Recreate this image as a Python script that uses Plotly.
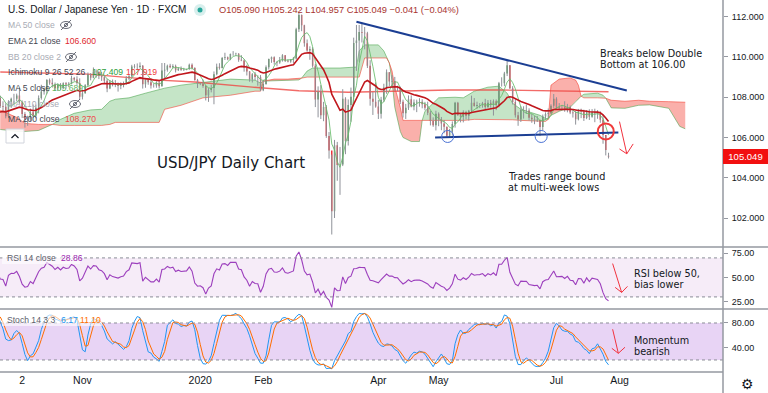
import numpy as np
import pandas as pd
import plotly.graph_objects as go
from plotly.subplots import make_subplots

# ---------------- data (USD/JPY daily, FXCM) ----------------
first_date = "2019-08-26"
first_open = 105.39
last_open = 105.090

closes = [
    105.93, 105.75, 106.10, 106.52, 106.27,
    106.23, 105.96, 106.41, 106.93, 106.92,
    107.25, 107.55, 107.80, 108.10, 108.08,
    108.14, 108.15, 108.44, 107.97, 107.56,
    107.53, 107.05, 107.77, 107.93, 107.92,
    108.08, 107.75, 107.17, 106.89, 106.93,
    107.25, 107.08, 107.48, 107.96, 108.28,
    108.38, 108.86, 108.72, 108.64, 108.44,
    108.63, 108.48, 108.70, 108.63, 108.67,
    108.95, 108.88, 108.71, 108.03, 108.20,
    108.60, 109.15, 108.97, 109.28, 109.26,
    109.05, 108.99, 108.82, 108.43, 108.77,
    108.65, 108.61, 108.56, 108.64, 108.67,
    108.93, 109.04, 109.53, 109.50, 109.50,
    109.56, 108.64, 108.87, 108.75, 108.58,
    108.58, 108.72, 108.54, 109.33, 109.37,
    109.57, 109.49, 109.55, 109.34, 109.43,
    109.37, 109.38, 109.40, 109.61, 109.45,
    108.86, 108.66, 108.68, 108.56, 108.10,
    108.36, 108.46, 109.14, 109.51, 109.45,
    109.95, 109.98, 109.89, 110.15, 110.15,
    110.16, 109.86, 109.83, 109.47, 109.28,
    108.89, 109.14, 109.01, 108.99, 108.35,
    108.66, 109.49, 109.90, 109.99, 109.75,
    109.73, 109.82, 110.08, 109.81, 109.77,
    109.86, 109.92, 111.38, 112.08, 111.58,
    110.68, 110.32, 110.40, 109.57, 107.89,
    108.28, 107.11, 107.51, 106.08, 105.35,
    102.34, 105.61, 104.63, 104.66, 107.92,
    105.82, 107.61, 108.03, 110.69, 110.82,
    111.24, 111.20, 111.18, 109.56, 107.93,
    107.78, 107.54, 107.18, 107.88, 108.48,
    109.24, 108.78, 108.81, 108.48, 108.45,
    107.77, 107.20, 107.48, 107.90, 107.54,
    107.74, 107.78, 107.77, 107.65, 107.48,
    107.23, 106.82, 106.61, 107.18, 106.90,
    106.69, 106.53, 106.09, 106.29, 106.67,
    107.72, 107.13, 107.02, 107.27, 107.08,
    107.33, 107.72, 107.56, 107.61, 107.62,
    107.71, 107.51, 107.72, 107.63, 107.80,
    107.61, 108.69, 108.69, 109.18, 109.59,
    108.44, 107.76, 107.11, 106.89, 107.36,
    107.33, 107.34, 106.98, 106.91, 106.86,
    106.88, 106.52, 107.04, 107.17, 107.21,
    107.58, 107.92, 107.48, 107.52, 107.51,
    107.36, 107.51, 107.24, 107.21, 106.91,
    107.29, 107.28, 106.97, 107.30, 107.03,
    107.26, 107.19, 107.17, 106.88, 106.12,
    105.38, 105.049,
]
highs = [
    106.13, 106.18, 106.22, 106.68, 106.66,
    106.39, 106.28, 106.56, 107.07, 107.23,
    107.39, 107.64, 107.94, 108.27, 108.20,
    108.30, 108.24, 108.48, 108.47, 108.08,
    107.80, 107.70, 107.85, 107.98, 108.17,
    108.18, 108.47, 107.84, 107.26, 107.08,
    107.44, 107.64, 107.63, 108.09, 108.62,
    108.48, 108.90, 108.93, 108.94, 108.73,
    108.68, 108.70, 108.74, 108.75, 108.75,
    109.07, 109.01, 109.04, 108.94, 108.30,
    108.65, 109.23, 109.20, 109.48, 109.38,
    109.27, 109.25, 109.07, 108.90, 108.85,
    108.88, 108.85, 108.73, 108.74, 108.78,
    109.05, 109.10, 109.61, 109.64, 109.68,
    109.73, 109.60, 108.95, 108.94, 108.93,
    108.68, 108.79, 108.82, 109.70, 109.70,
    109.62, 109.66, 109.64, 109.62, 109.49,
    109.53, 109.46, 109.42, 109.67, 109.68,
    109.49, 108.91, 108.72, 108.88, 108.60,
    108.45, 108.62, 109.28, 109.67, 109.69,
    110.00, 110.21, 110.02, 110.17, 110.29,
    110.21, 110.19, 110.09, 109.88, 109.61,
    109.30, 109.20, 109.25, 109.09, 109.10,
    108.87, 109.58, 109.92, 110.02, 110.03,
    109.79, 110.00, 110.14, 110.09, 109.88,
    109.90, 110.00, 111.45, 112.22, 112.11,
    111.60, 110.87, 110.53, 110.48, 109.66,
    108.54, 108.60, 107.77, 107.61, 106.27,
    105.15, 105.88, 105.78, 105.53, 108.40,
    108.00, 107.89, 108.48, 110.96, 111.59,
    111.59, 111.71, 111.49, 111.25, 109.84,
    108.26, 108.73, 107.86, 108.02, 108.67,
    109.38, 109.25, 109.10, 109.01, 108.57,
    108.53, 107.88, 107.67, 108.09, 108.09,
    107.89, 107.88, 107.95, 107.90, 107.77,
    107.78, 107.32, 107.00, 107.33, 107.25,
    107.02, 106.87, 106.54, 106.43, 106.80,
    107.77, 107.77, 107.19, 107.35, 107.33,
    107.37, 108.08, 107.96, 107.78, 107.71,
    107.77, 107.92, 107.86, 107.87, 107.89,
    107.89, 108.76, 108.99, 109.26, 109.85,
    109.60, 108.55, 107.90, 107.27, 107.55,
    107.55, 107.63, 107.45, 107.17, 107.07,
    107.07, 106.85, 107.14, 107.25, 107.44,
    107.65, 108.16, 108.00, 107.71, 107.61,
    107.80, 107.67, 107.59, 107.36, 107.32,
    107.42, 107.43, 107.38, 107.36, 107.40,
    107.41, 107.43, 107.36, 107.30, 107.12,
    106.10, 105.242,
]
lows = [
    104.45, 105.65, 105.60, 105.96, 106.22,
    106.02, 105.73, 105.89, 106.38, 106.74,
    106.85, 107.11, 107.44, 107.58, 107.83,
    107.87, 107.95, 108.07, 107.79, 107.47,
    107.32, 106.95, 106.97, 107.47, 107.67,
    107.80, 107.68, 106.97, 106.49, 106.58,
    106.80, 106.98, 106.95, 107.20, 107.88,
    108.13, 108.15, 108.62, 108.48, 108.32,
    108.31, 108.37, 108.40, 108.43, 108.50,
    108.64, 108.79, 108.62, 107.88, 107.89,
    108.18, 108.55, 108.84, 108.94, 108.97,
    108.90, 108.81, 108.66, 108.25, 108.40,
    108.54, 108.50, 108.28, 108.40, 108.49,
    108.62, 108.85, 108.98, 109.43, 109.33,
    109.45, 108.43, 108.47, 108.62, 108.43,
    108.48, 108.47, 108.43, 108.53, 108.92,
    109.27, 109.44, 109.45, 109.23, 109.31,
    109.31, 109.30, 109.34, 109.36, 109.38,
    108.82, 108.46, 108.60, 108.47, 107.84,
    107.77, 108.24, 107.65, 109.09, 109.37,
    109.43, 109.85, 109.84, 109.84, 110.06,
    110.05, 109.76, 109.79, 109.27, 109.08,
    108.77, 108.73, 108.85, 108.57, 108.31,
    108.30, 108.62, 109.38, 109.71, 109.62,
    109.54, 109.66, 109.77, 109.75, 109.73,
    109.71, 109.70, 109.88, 111.24, 111.28,
    110.51, 110.26, 109.86, 109.48, 107.51,
    107.00, 106.92, 106.81, 105.98, 104.95,
    101.18, 102.00, 103.85, 103.15, 104.58,
    105.17, 105.60, 106.78, 107.70, 109.31,
    109.76, 110.72, 110.38, 109.45, 107.58,
    107.12, 107.48, 106.92, 106.94, 107.77,
    108.17, 108.56, 108.49, 108.31, 108.30,
    107.66, 106.99, 106.92, 107.37, 107.50,
    107.35, 107.26, 107.53, 107.45, 107.35,
    107.11, 106.60, 106.53, 106.35, 106.56,
    106.36, 106.21, 105.98, 105.99, 106.09,
    106.49, 107.07, 106.75, 106.75, 106.90,
    106.84, 107.21, 107.53, 107.42, 107.46,
    107.48, 107.38, 107.47, 107.48, 107.09,
    107.36, 107.50, 108.53, 108.55, 109.05,
    108.41, 107.64, 106.99, 106.58, 106.77,
    106.94, 107.18, 106.85, 106.73, 106.66,
    106.77, 106.07, 106.36, 106.89, 106.98,
    107.17, 107.47, 107.40, 107.35, 107.38,
    107.28, 107.25, 107.16, 106.99, 106.64,
    106.85, 106.96, 106.82, 106.91, 106.87,
    106.98, 106.76, 106.93, 106.73, 105.69,
    105.11, 104.957,
]

# 200-day MA
ma200_dates = ["2019-09-20", "2019-11-05", "2019-12-11", "2019-12-30", "2020-01-28",
               "2020-02-20", "2020-03-17", "2020-04-13", "2020-05-07", "2020-06-02",
               "2020-07-02", "2020-07-28"]
ma200_vals = [109.25, 109.15, 108.85, 108.76, 108.5, 108.32, 108.25, 108.3, 108.36,
              108.36, 108.32, 108.27]

# Ichimoku cloud (leading spans, displaced 26 bars)
cloud_dates = [
    "2019-09-20", "2019-09-30", "2019-10-03", "2019-10-10", "2019-10-17",
    "2019-10-22", "2019-10-29", "2019-11-06", "2019-11-12", "2019-11-15", "2019-11-19",
    "2019-11-26", "2019-12-04", "2019-12-11", "2019-12-13", "2019-12-23", "2020-01-02",
    "2020-01-16", "2020-01-29", "2020-01-31", "2020-02-03",
    "2020-02-07", "2020-02-14", "2020-02-20", "2020-02-21",
    "2020-02-25", "2020-02-27", "2020-03-12", "2020-03-20", "2020-03-23", "2020-03-25",
    "2020-04-01", "2020-04-03", "2020-04-06", "2020-04-07",
    "2020-04-08", "2020-04-09", "2020-04-13", "2020-04-14", "2020-04-17", "2020-04-22",
    "2020-04-23",
    "2020-04-24", "2020-05-01", "2020-05-11", "2020-05-14", "2020-05-20", "2020-05-27",
    "2020-06-02", "2020-06-05", "2020-06-09", "2020-06-12", "2020-06-23", "2020-06-25",
    "2020-06-26",
    "2020-06-29", "2020-07-02", "2020-07-08", "2020-07-10", "2020-07-13", "2020-07-14",
    "2020-07-15", "2020-07-22", "2020-07-24", "2020-07-27",
    "2020-07-29", "2020-08-05", "2020-08-12", "2020-08-18", "2020-08-27", "2020-09-02",
    "2020-09-04",
]
span_a = [
    106.4, 106.3, 106.3, 106.35, 106.65,
    106.9, 107.2, 107.37, 107.4, 107.8, 107.9,
    107.97, 108.2, 108.4, 108.45, 108.6, 108.75,
    108.9, 108.85, 108.7, 108.8,
    108.82, 108.84, 108.86, 108.95,
    109.3, 109.45, 109.45, 109.5, 110.3, 110.6,
    110.6, 110.3, 110.0, 109.7,
    108.8, 107.5, 106.3, 106.0, 105.8, 105.8,
    106.85,
    107.3, 107.97, 108.0, 107.97, 108.3, 108.5,
    108.55, 108.2, 107.7, 107.4, 107.1, 106.95,
    106.9,
    107.1, 107.3, 107.5, 107.8, 107.9, 108.05,
    108.15, 108.2, 108.1, 107.95,
    107.47, 107.45, 107.6, 107.62, 107.45, 106.55,
    106.43,
]
span_b = [
    107.35, 107.0, 106.7, 106.65, 106.65,
    106.6, 106.6, 106.6, 106.6, 106.65, 106.75,
    106.75, 106.75, 106.75, 107.4, 107.6, 107.97,
    108.1, 108.3, 108.3, 108.8,
    108.9, 108.9, 108.92, 108.95,
    109.0, 109.0, 109.0, 109.0, 109.0, 109.95,
    109.95, 109.95, 109.95, 109.7,
    109.3, 108.5, 107.5, 106.85, 106.85, 106.85,
    106.85,
    106.85, 106.85, 106.85, 106.85, 106.9, 106.9,
    106.9, 106.88, 106.88, 106.85, 106.8, 106.8,
    106.9,
    108.6, 108.9, 108.96, 108.85, 108.6, 108.05,
    107.97, 107.97, 107.97, 107.95,
    107.85, 107.8, 107.85, 107.8, 107.78, 107.78,
    107.75,
]

# legend values shown on the chart
ohlc_text = "O105.090 H105.242 L104.957 C105.049 \u22120.041 (\u22120.04%)"
ema21_last = "106.600"
ichi_vals = ("107.409", "107.919")
ma5_last = "105.689"
ma200_last = "108.270"
rsi_last = "28.86"
stoch_last = ("6.17", "11.10")
last_close = 105.049

tick_dates = ["2019-10-02", "2019-11-01", "2020-01-01", "2020-02-03", "2020-04-01",
              "2020-05-01", "2020-07-01", "2020-08-03"]
tick_labels = ["2", "Nov", "2020", "Feb", "Apr", "May", "Jul", "Aug"]
view_dates = ("2019-09-19 21:50", "2020-09-23 18:45")

# drawings (date, value)
resistance = [("2020-03-20", 111.75), ("2020-08-05 16:00", 108.33)]
support = [("2020-04-29 17:00", 106.0), ("2020-07-31 14:00", 106.25)]
blue_circles = [("2020-05-06 07:00", 106.05), ("2020-06-23 10:00", 106.05)]
red_circle = ("2020-07-27", 106.3)
price_arrow = [("2020-08-03", 106.79), ("2020-08-05 16:00", 105.19),
               ("2020-08-03", 105.43), ("2020-08-10", 105.68)]
rsi_arrow = [("2020-07-29 12:00", 64.2), ("2020-08-03 19:00", 34.6),
             ("2020-07-30 10:00", 39.8), ("2020-08-05 22:00", 40.8)]
stoch_arrow = [("2020-07-29 12:00", 69.8), ("2020-07-31 14:00", 30.8),
               ("2020-07-29 05:00", 38.9), ("2020-08-05", 40.6)]

# ---------------- derived series ----------------
base_day = np.datetime64(first_date)


def bar_pos(s):
    """Trading-day position of a date (weekends skipped), fractional within the day."""
    ts = pd.Timestamp(s)
    day = np.datetime64(ts.date())
    return float(np.busday_count(base_day, day)) + (ts - ts.normalize()).total_seconds() / 86400


n = len(closes)
xi = list(range(n))
opens = [first_open] + closes[:-2] + [last_open]
c = pd.Series(closes, dtype=float)
h = pd.Series(highs, dtype=float)
l = pd.Series(lows, dtype=float)
ma5 = c.rolling(5).mean()
ema21 = c.ewm(span=21, adjust=False).mean()
delta = c.diff()
ag = delta.clip(lower=0).ewm(alpha=1 / 14, adjust=False).mean()
al = (-delta.clip(upper=0)).ewm(alpha=1 / 14, adjust=False).mean()
rsi = 100 - 100 / (1 + ag / al)
raw_k = 100 * (c - l.rolling(14).min()) / (h.rolling(14).max() - l.rolling(14).min())
k = raw_k.rolling(3).mean()
d = k.rolling(3).mean()

UP = "#2f8a36"
DN = "#ec1c24"
PW, PH = 723.0, 372.0


def px(x):
    return x / PW


def py(y):
    return 1 - y / PH


fig = make_subplots(rows=3, cols=1, shared_xaxes=True, vertical_spacing=0)

# Ichimoku cloud fills
cx = [bar_pos(s) for s in cloud_dates]
diff = [round(a - b, 6) for a, b in zip(span_a, span_b)]
segs, cur = [], [0]
for j in range(1, len(cx)):
    cur.append(j)
    if diff[j] == 0 and j != len(cx) - 1:
        segs.append(cur)
        cur = [j]
segs.append(cur)
for sg in segs:
    s = sum(diff[j] for j in sg)
    col = "rgba(76,175,80,0.32)" if s > 0 else "rgba(244,67,54,0.42)"
    xs = [cx[j] for j in sg]
    fig.add_trace(go.Scatter(x=xs, y=[span_b[j] for j in sg], mode="lines",
                             line=dict(width=0), hoverinfo="skip", showlegend=False), 1, 1)
    fig.add_trace(go.Scatter(x=xs, y=[span_a[j] for j in sg], mode="lines",
                             line=dict(width=0), fill="tonexty", fillcolor=col,
                             hoverinfo="skip", showlegend=False), 1, 1)
fig.add_trace(go.Scatter(x=cx, y=span_a, mode="lines",
                         line=dict(color="rgba(67,160,71,0.55)", width=1),
                         showlegend=False), 1, 1)
fig.add_trace(go.Scatter(x=cx, y=span_b, mode="lines",
                         line=dict(color="rgba(244,67,54,0.6)", width=1),
                         showlegend=False), 1, 1)

# MA200
fig.add_trace(go.Scatter(x=[bar_pos(s) for s in ma200_dates], y=ma200_vals, mode="lines",
                         line=dict(color="rgba(239,70,66,0.8)", width=1.4),
                         showlegend=False), 1, 1)

# wicks + candle bodies
wx, wy = [], []
for xv, hi, lo in zip(xi, highs, lows):
    wx += [xv, xv, None]
    wy += [lo, hi, None]
fig.add_trace(go.Scatter(x=wx, y=wy, mode="lines", line=dict(color="#8f9299", width=1),
                         hoverinfo="skip", showlegend=False), 1, 1)
fig.add_trace(go.Candlestick(x=xi, open=opens, high=highs, low=lows, close=closes,
                             increasing=dict(line=dict(color=UP, width=0), fillcolor=UP),
                             decreasing=dict(line=dict(color=DN, width=0), fillcolor=DN),
                             showlegend=False), 1, 1)

fig.add_trace(go.Scatter(x=xi, y=ma5, mode="lines",
                         line=dict(color="rgba(102,187,106,0.85)", width=1),
                         showlegend=False), 1, 1)
fig.add_trace(go.Scatter(x=xi, y=ema21, mode="lines",
                         line=dict(color="#c0161c", width=1.6), showlegend=False), 1, 1)

fig.add_trace(go.Scatter(x=xi, y=rsi, mode="lines", line=dict(color="#9c3fbd", width=1.1),
                         showlegend=False), 2, 1)
fig.add_trace(go.Scatter(x=xi, y=k, mode="lines", line=dict(color="#2196f3", width=1),
                         showlegend=False), 3, 1)
fig.add_trace(go.Scatter(x=xi, y=d, mode="lines", line=dict(color="#ff6d00", width=1),
                         showlegend=False), 3, 1)

shapes = []
shapes.append(dict(type="rect", xref="paper", yref="y2", x0=0, x1=1, y0=30, y1=70,
                   fillcolor="rgba(156,39,176,0.09)", line=dict(width=0), layer="below"))
shapes.append(dict(type="rect", xref="paper", yref="y3", x0=0, x1=1, y0=20, y1=80,
                   fillcolor="rgba(150,60,210,0.22)", line=dict(width=0), layer="below"))
for yr, v in (("y2", 70), ("y2", 30), ("y3", 80), ("y3", 20)):
    shapes.append(dict(type="line", xref="paper", yref=yr, x0=0, x1=1, y0=v, y1=v,
                       line=dict(color="#8a8d96", width=1, dash="3px,3px")))
SEP = "#9598a1"
for yy in (247, 309):
    shapes.append(dict(type="line", xref="paper", yref="paper", x0=0, x1=768 / PW,
                       y0=py(yy), y1=py(yy), line=dict(color=SEP, width=1.5)))
shapes.append(dict(type="line", xref="paper", yref="paper", x0=0, x1=1,
                   y0=py(372), y1=py(372), line=dict(color=SEP, width=1.5)))
shapes.append(dict(type="line", xref="paper", yref="paper", x0=1, x1=1,
                   y0=py(393), y1=1, line=dict(color=SEP, width=1.5)))
BLUE = "#1b3e93"
for ln in (resistance, support):
    shapes.append(dict(type="line", xref="x", yref="y", x0=bar_pos(ln[0][0]), y0=ln[0][1],
                       x1=bar_pos(ln[1][0]), y1=ln[1][1], line=dict(color=BLUE, width=2)))
for cdt, cy in blue_circles:
    shapes.append(dict(type="circle", xref="x", yref="y", xsizemode="pixel",
                       ysizemode="pixel", xanchor=bar_pos(cdt), yanchor=cy,
                       x0=-6, x1=6, y0=-6, y1=6, line=dict(color="#4a72d4", width=1)))
shapes.append(dict(type="circle", xref="x", yref="y", xsizemode="pixel", ysizemode="pixel",
                   xanchor=bar_pos(red_circle[0]), yanchor=red_circle[1], x0=-8, x1=8,
                   y0=-8, y1=8, line=dict(color="#f03a3a", width=2)))
for arr, yr in ((price_arrow, "y"), (rsi_arrow, "y2"), (stoch_arrow, "y3")):
    top, tip, la, ra = arr
    for p0, p1 in ((top, tip), (la, tip), (tip, ra)):
        shapes.append(dict(type="line", xref="x", yref=yr, x0=bar_pos(p0[0]), y0=p0[1],
                           x1=bar_pos(p1[0]), y1=p1[1], line=dict(color="#f2333f", width=1)))
# legend decorations
shapes.append(dict(type="circle", xref="paper", yref="paper", x0=px(194), x1=px(206),
                   y0=py(16), y1=py(4), fillcolor="rgba(38,166,154,0.18)", line=dict(width=0)))
shapes.append(dict(type="circle", xref="paper", yref="paper", x0=px(197.5), x1=px(202.5),
                   y0=py(12.5), y1=py(7.5), fillcolor="#26a69a", line=dict(width=0)))
for ex, ey in ((66, 25), (71, 57), (75, 104)):
    shapes.append(dict(type="circle", xref="paper", yref="paper", x0=px(ex - 5.5),
                       x1=px(ex + 5.5), y0=py(ey + 3.5), y1=py(ey - 3.5),
                       line=dict(color="#6a6d78", width=1)))
    shapes.append(dict(type="circle", xref="paper", yref="paper", x0=px(ex - 1.6),
                       x1=px(ex + 1.6), y0=py(ey + 1.6), y1=py(ey - 1.6),
                       line=dict(color="#6a6d78", width=1)))
    shapes.append(dict(type="line", xref="paper", yref="paper", x0=px(ex - 5),
                       x1=px(ex + 5), y0=py(ey + 5), y1=py(ey - 5),
                       line=dict(color="#6a6d78", width=1)))
shapes.append(dict(type="rect", xref="paper", yref="paper", x0=px(6), x1=px(24),
                   y0=py(143), y1=py(129), fillcolor="rgba(255,255,255,0.9)",
                   line=dict(color="#d1d4dc", width=1)))
shapes.append(dict(type="path", xref="paper", yref="paper",
                   path=f"M {px(11.5)} {py(138)} L {px(15)} {py(134.5)} L {px(18.5)} {py(138)}",
                   line=dict(color="#131722", width=1.2)))

ann = []
LF = "Liberation Sans"


def txt(x, y, text, size=8.6, color="#131722", family=LF, **kw):
    d0 = dict(x=px(x), y=py(y), xref="paper", yref="paper", text=text, showarrow=False,
              xanchor="left", yanchor="middle",
              font=dict(family=family, size=size, color=color))
    d0.update(kw)
    ann.append(d0)


GRAY = "#a8abb4"
DARK = "#434651"
txt(6, 10, "U.S. Dollar / Japanese Yen \u00b7 1D \u00b7 FXCM", size=10, color="#131722")
txt(217, 10, ohlc_text, size=9.3, color="#a8342f")
txt(6, 25, "MA 50 close", color=GRAY)
txt(6, 41, "EMA 21 close", color=DARK)
txt(62.7, 41, ema21_last, color="#e0282e")
txt(6, 57, "BB 20 close 2", color=GRAY)
txt(6, 72, "Ichimoku 9 26 52 26", color=DARK)
txt(90, 72, ichi_vals[0], color="#2e9d3a")
txt(124, 72, ichi_vals[1], color="#f03a3a")
txt(6, 88, "MA 5 close", color=DARK)
txt(50, 88, ma5_last, color="#5fb564")
txt(6, 104, "MA 110 close", color=GRAY)
txt(6, 119, "MA 200 close", color=DARK)
txt(62.7, 119, ma200_last, color="#ef4a4a")
shapes.append(dict(type="rect", xref="paper", yref="paper", x0=px(2), x1=px(80),
                   y0=py(264), y1=py(252), fillcolor="rgba(255,255,255,0.6)",
                   line=dict(width=0)))
shapes.append(dict(type="rect", xref="paper", yref="paper", x0=px(2), x1=px(102),
                   y0=py(326), y1=py(314), fillcolor="rgba(255,255,255,0.6)",
                   line=dict(width=0)))
txt(5, 258, "RSI 14 close", color="#5d606b")
txt(59, 258, rsi_last, color="#9c27b0")
txt(5, 320, "Stoch 14 3 3", color="#5d606b")
txt(59, 320, stoch_last[0], color="#2196f3")
txt(78, 320, stoch_last[1], color="#ff6d00")

BF = "DejaVu Sans"
txt(155, 163, "USD/JPY Daily Chart", size=15, family=BF)
for x0, ys, lines in ((598, (53.5, 64.5), ("Breaks below Double", "Bottom at 106.00")),
                      (506, (176.5, 187.5), ("Trades range bound", "at multi-week lows")),
                      (632, (273, 284), ("RSI below 50,", "bias lower")),
                      (632, (340, 351), ("Momentum", "bearish"))):
    for yv, t in zip(ys, lines):
        txt(x0, yv, t, size=9.7, family=BF)
txt(739, 384, "\u2699", size=14, family="DejaVu Sans")

ann.append(dict(x=1, y=last_close, xref="paper", yref="y", text=f"{last_close:.3f}",
                showarrow=False, xanchor="left", yanchor="middle", bgcolor="#f21010",
                font=dict(family=LF, size=9.5, color="white"), width=41, borderpad=2,
                borderwidth=0, align="center"))

fig.update_layout(
    width=768, height=393, margin=dict(l=0, r=45, t=0, b=21),
    paper_bgcolor="white", plot_bgcolor="white", showlegend=False,
    shapes=shapes, annotations=ann,
    yaxis=dict(domain=[1 - 247 / PH, 1]),
    yaxis2=dict(domain=[1 - 309 / PH, 1 - 247 / PH]),
    yaxis3=dict(domain=[0, 1 - 309 / PH]),
)
fig.update_xaxes(range=[bar_pos(view_dates[0]), bar_pos(view_dates[1])],
                 rangeslider_visible=False, showgrid=False, zeroline=False,
                 showline=False, ticks="")
fig.update_xaxes(tickmode="array", tickvals=[bar_pos(t) for t in tick_dates],
                 ticktext=tick_labels, tickfont=dict(family=LF, size=10.5, color="#131722"),
                 showticklabels=True, row=3, col=1)
common_y = dict(side="right", showgrid=False, zeroline=False, showline=False,
                ticks="outside", ticklen=4, tickcolor="#9598a1",
                tickfont=dict(family=LF, size=9, color="#131722"), ticklabelstandoff=2)
fig.update_yaxes(range=[100.56, 112.83], tickmode="linear", tick0=102, dtick=2,
                 tickformat=".3f", row=1, col=1, **common_y)
fig.update_yaxes(range=[17.6, 81.2], tickmode="array", tickvals=[25, 50, 75],
                 tickformat=".2f", row=2, col=1, **common_y)
fig.update_yaxes(range=[0.5, 102.7], tickmode="array", tickvals=[40, 80],
                 tickformat=".2f", row=3, col=1, **common_y)

fig.write_html("out.html", config={"displayModeBar": False},
               post_script="document.body.style.margin='0';"
                           "document.body.style.overflow='hidden';")
